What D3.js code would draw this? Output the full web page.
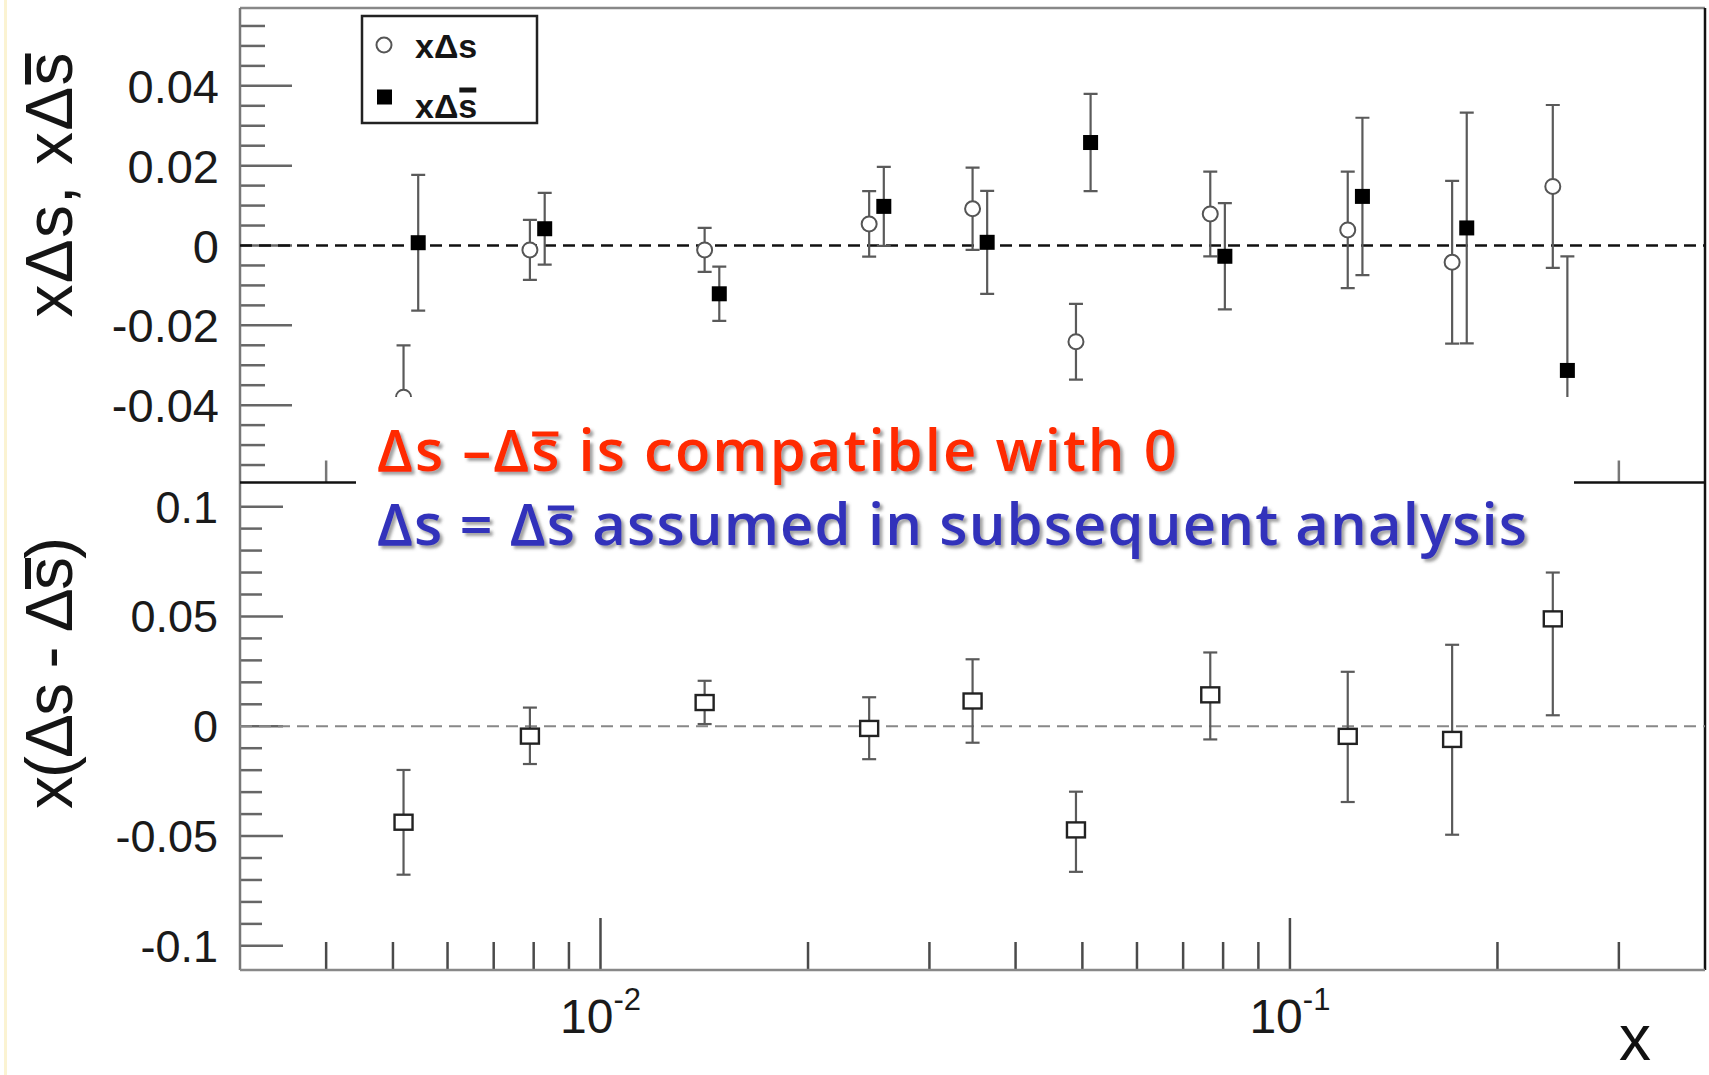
<!DOCTYPE html>
<html><head><meta charset="utf-8">
<script src="https://cdn.jsdelivr.net/npm/d3@7"></script>
<style>html,body{margin:0;padding:0;background:#fff;overflow:hidden}</style>
</head><body>
<svg id="c" width="1709" height="1075"></svg>
<script>
// ---- data ----
const xBins        = [0.00518, 0.0079, 0.01416, 0.02453, 0.03465, 0.04894, 0.07664, 0.1213, 0.1719, 0.2406];
const xBinsShifted = [0.00544, 0.0083, 0.01487, 0.02576, 0.03638, 0.05139, 0.08047, 0.1274, 0.1805, 0.2526];
const xDs        = [-0.0380, -0.0011, -0.0011, 0.0054, 0.0092, -0.0241, 0.0079, 0.0039, -0.0042, 0.0148];
const xDsErr     = [ 0.0130,  0.0075,  0.0055, 0.0082, 0.0103,  0.0095, 0.0106, 0.0146,  0.0204, 0.0204];
const xDsbar     = [ 0.0007,  0.0042, -0.0121, 0.0098, 0.0008,  0.0258, -0.0027, 0.0123, 0.0044, -0.0313];
const xDsbarErr  = [ 0.0170,  0.0090,  0.0068, 0.0099, 0.0129,  0.0122, 0.0133, 0.0197, 0.0289, 0.0286];
const xDiff         = [-0.0437, -0.0045, 0.0108, -0.0010, 0.0115, -0.0472, 0.0143, -0.0046, -0.0060, 0.0489];
const xDiffErrLow   = [ 0.0239,  0.0127, 0.0098,  0.0140, 0.0190,  0.0191, 0.0203,  0.0299,  0.0434, 0.0439];
const xDiffErrHigh  = [ 0.0238,  0.0130, 0.0099,  0.0142, 0.0190,  0.0174, 0.0193,  0.0294,  0.0431, 0.0211];
const topTickValues = [0.04, 0.02, 0, -0.02, -0.04];
const topTickLabels = ["0.04", "0.02", "0", "-0.02", "-0.04"];
const botTickValues = [0.1, 0.05, 0, -0.05, -0.1];
const botTickLabels = ["0.1", "0.05", "0", "-0.05", "-0.1"];
const xTickValues = [0.01, 0.1];
const xTickExps   = ["-2", "-1"];

// ---- layout ----
const L = 240, R = 1705, T = 8, M = 482.5, B = 970;
const AX = "'Liberation Sans', Arial, sans-serif";
const svg = d3.select('#c');
svg.append('rect').attr('width',1709).attr('height',1075).attr('fill','#fff');
svg.append('rect').attr('x',4).attr('y',0).attr('width',3).attr('height',1075).attr('fill','#fbf3d2');

const defs = svg.append('defs');
defs.append('filter').attr('id','sh').attr('x','-5%').attr('y','-30%').attr('width','110%').attr('height','160%')
  .append('feDropShadow').attr('dx',3).attr('dy',3).attr('stdDeviation',1.6)
  .attr('flood-color','#555').attr('flood-opacity',0.55);
defs.append('clipPath').attr('id','cpT').append('rect').attr('x',L).attr('y',T).attr('width',R-L).attr('height',M-T);
defs.append('clipPath').attr('id','cpB').append('rect').attr('x',L).attr('y',M).attr('width',R-L).attr('height',B-M);

const x  = d3.scaleLog().domain([0.003, 0.4]).range([L, R]);
const yT = d3.scaleLinear().domain([-0.0595, 0.0595]).range([483, T]);
const yB = d3.scaleLinear().domain([-0.111, 0.111]).range([B, M]);

const tickCol = '#666';
// y ticks top
d3.range(-55, 56, 5).forEach(k => {
  const major = k % 20 === 0;
  svg.append('line').attr('x1',L).attr('x2',L+(major?52:25)).attr('y1',yT(k/1000)).attr('y2',yT(k/1000))
    .attr('stroke',tickCol).attr('stroke-width',2.5);
});
topTickValues.forEach((v,i) => {
  svg.append('text').attr('x',219).attr('y',yT(v)+17).attr('text-anchor','end')
    .attr('font-family',AX).attr('font-size',47).attr('fill','#1a1a1a').text(topTickLabels[i]);
});
// y ticks bottom
d3.range(-10, 11, 1).forEach(k => {
  const major = k % 5 === 0;
  svg.append('line').attr('x1',L).attr('x2',L+(major?43:22)).attr('y1',yB(k/100)).attr('y2',yB(k/100))
    .attr('stroke',tickCol).attr('stroke-width',2.5);
});
botTickValues.forEach((v,i) => {
  svg.append('text').attr('x',218).attr('y',yB(v)+16).attr('text-anchor','end')
    .attr('font-family',AX).attr('font-size',45).attr('fill','#1a1a1a').text(botTickLabels[i]);
});
// x ticks
const xt = x.ticks().filter(v => v > 0.0031 && v < 0.39);
const isMajor = v => Math.abs(Math.log10(v) - Math.round(Math.log10(v))) < 1e-6;
xt.forEach(v => {
  svg.append('line').attr('x1',x(v)).attr('x2',x(v)).attr('y1',B).attr('y2',B-(isMajor(v)?52:28))
    .attr('stroke','#4a4a4a').attr('stroke-width',2.5);
  svg.append('line').attr('x1',x(v)).attr('x2',x(v)).attr('y1',M).attr('y2',M-(isMajor(v)?40:22))
    .attr('stroke','#777').attr('stroke-width',2.5);
});
xTickValues.forEach((v,i) => {
  const t = svg.append('text').attr('x',x(v)).attr('y',1033).attr('text-anchor','middle')
    .attr('font-family',AX).attr('fill','#1a1a1a');
  t.append('tspan').attr('font-size',48).text('10');
  t.append('tspan').attr('font-size',31).attr('dy',-23).text(xTickExps[i]);
});
svg.append('text').attr('x',1635).attr('y',1060).attr('text-anchor','middle')
  .attr('font-family',AX).attr('font-size',64).attr('fill','#111').text('x');

// frame
const fl = (x1,y1,x2,y2,c) => svg.append('line').attr('x1',x1).attr('y1',y1).attr('x2',x2).attr('y2',y2).attr('stroke',c).attr('stroke-width',2.5);
fl(L,T,R,T,'#888'); fl(L,T,L,B,'#777'); fl(R,T,R,B,'#111'); fl(L,B,R,B,'#888'); fl(L,M,R,M,'#111');

// zero lines
svg.append('line').attr('x1',L).attr('x2',R).attr('y1',yT(0)).attr('y2',yT(0))
  .attr('stroke','#111').attr('stroke-width',2.5).attr('stroke-dasharray','12,7');
svg.append('line').attr('x1',L).attr('x2',R).attr('y1',yB(0)).attr('y2',yB(0))
  .attr('stroke','#888').attr('stroke-width',2).attr('stroke-dasharray','12,7');

// error bars helper
function errBars(g, xs, vals, lo, hi, y, col) {
  xs.forEach((xv,i) => {
    const cx = x(xv), y1 = y(vals[i]-lo[i]), y2 = y(vals[i]+hi[i]);
    g.append('line').attr('x1',cx).attr('x2',cx).attr('y1',y1).attr('y2',y2).attr('stroke',col).attr('stroke-width',2.2);
    [y1,y2].forEach(yy => g.append('line').attr('x1',cx-7).attr('x2',cx+7).attr('y1',yy).attr('y2',yy).attr('stroke',col).attr('stroke-width',2.2));
  });
}
const gT = svg.append('g').attr('clip-path','url(#cpT)');
errBars(gT, xBins, xDs, xDsErr, xDsErr, yT, '#5a5a5a');
errBars(gT, xBinsShifted, xDsbar, xDsbarErr, xDsbarErr, yT, '#5a5a5a');
xBins.forEach((xv,i) => gT.append('circle').attr('cx',x(xv)).attr('cy',yT(xDs[i])).attr('r',7.5)
  .attr('fill','#fff').attr('stroke','#555').attr('stroke-width',2));
xBinsShifted.forEach((xv,i) => gT.append('rect').attr('x',x(xv)-7.5).attr('y',yT(xDsbar[i])-7.5)
  .attr('width',15).attr('height',15).attr('fill','#000'));

const gB = svg.append('g').attr('clip-path','url(#cpB)');
errBars(gB, xBins, xDiff, xDiffErrLow, xDiffErrHigh, yB, '#5a5a5a');
xBins.forEach((xv,i) => gB.append('rect').attr('x',x(xv)-9).attr('y',yB(xDiff[i])-7.5)
  .attr('width',18).attr('height',15).attr('fill','#fff').attr('stroke','#222').attr('stroke-width',2.4));

// overbar helper
function overbar(g, textSel, idx, offset, thick, color) {
  const n = textSel.node();
  const s = n.getStartPositionOfChar(idx), e = n.getEndPositionOfChar(idx);
  g.append('line').attr('x1',s.x+1).attr('x2',e.x-1).attr('y1',s.y-offset).attr('y2',s.y-offset)
    .attr('stroke',color).attr('stroke-width',thick);
}

// legend
svg.append('rect').attr('x',362).attr('y',16).attr('width',175).attr('height',107)
  .attr('fill','#fff').attr('stroke','#222').attr('stroke-width',2.5);
svg.append('circle').attr('cx',384).attr('cy',45).attr('r',7.5).attr('fill','#fff').attr('stroke','#555').attr('stroke-width',2);
svg.append('rect').attr('x',377).attr('y',89.5).attr('width',15).attr('height',15).attr('fill','#000');
const gL = svg.append('g');
gL.append('text').attr('x',415).attr('y',58).attr('font-family',AX).attr('font-size',34).attr('font-weight','bold')
  .attr('fill','#151515').text('x\u0394s');
const lt2 = gL.append('text').attr('x',415).attr('y',118).attr('font-family',AX).attr('font-size',34).attr('font-weight','bold')
  .attr('fill','#151515').text('x\u0394s');
overbar(gL, lt2, 2, 28, 5, '#151515');

// axis titles
const gY1 = svg.append('g').attr('transform','translate(72,185) rotate(-90)');
const yl1 = gY1.append('text').attr('text-anchor','middle').attr('font-family',AX).attr('font-size',66)
  .attr('fill','#151515').attr('textLength',265).text('x\u0394s, x\u0394s');
overbar(gY1, yl1, 7, 44, 6, '#151515');
const gY2 = svg.append('g').attr('transform','translate(72,673) rotate(-90)');
const yl2 = gY2.append('text').attr('text-anchor','middle').attr('font-family',AX).attr('font-size',66)
  .attr('fill','#151515').attr('textLength',272).text('x(\u0394s - \u0394s)');
overbar(gY2, yl2, 8, 44, 6, '#151515');

// annotation box
svg.append('rect').attr('x',356).attr('y',397).attr('width',1218).attr('height',169).attr('fill','#fff');
const gA = svg.append('g').attr('filter','url(#sh)');
const AF = "'Open Sans', 'Noto Sans', sans-serif";
const a1 = gA.append('text').attr('x',377).attr('y',471).attr('font-family',AF).attr('font-size',58)
  .attr('font-weight',600).attr('fill','#ff2a00').attr('textLength',800).text('\u0394s \u2013\u0394s is compatible with 0');
overbar(gA, a1, 5, 37, 5, '#ff2a00');
const a2 = gA.append('text').attr('x',377).attr('y',545).attr('font-family',AF).attr('font-size',58)
  .attr('font-weight',600).attr('fill','#3333bb').attr('textLength',1150).text('\u0394s = \u0394s assumed in subsequent analysis');
overbar(gA, a2, 6, 37, 5, '#3333bb');
</script>
</body></html>
